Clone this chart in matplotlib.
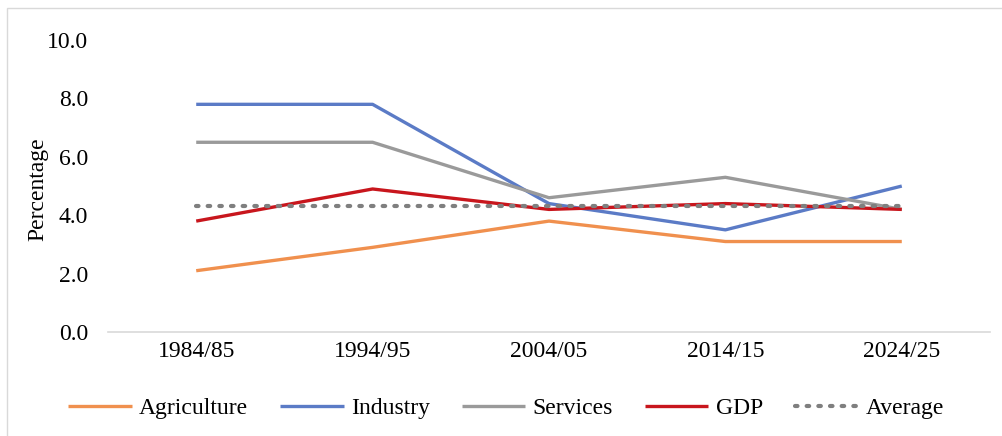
import matplotlib
matplotlib.use("Agg")
import matplotlib.pyplot as plt
from matplotlib.patches import Rectangle

plt.rcParams['font.family'] = ['Liberation Serif', 'DejaVu Serif']

periods = ["1984/85", "1994/95", "2004/05", "2014/15", "2024/25"]
agriculture = [2.1, 2.9, 3.8, 3.1, 3.1]
industry = [7.8, 7.8, 4.4, 3.5, 5.0]
services = [6.5, 6.5, 4.6, 5.3, 4.2]
gdp = [3.8, 4.9, 4.2, 4.4, 4.2]
average = [4.3, 4.3, 4.3, 4.3, 4.3]
yticks = [0.0, 2.0, 4.0, 6.0, 8.0, 10.0]

FS = 17

fig = plt.figure(figsize=(10.02, 4.36), dpi=100)
ax = fig.add_axes([0.1078, 0.2385, 0.8802, 0.6695])

x = list(range(len(periods)))
lw = 2.4
ax.plot(x, agriculture, color="#F0904E", lw=lw, label="Agriculture", solid_capstyle="butt")
ax.plot(x, industry, color="#5B7BC6", lw=lw, label="Industry", solid_capstyle="butt")
ax.plot(x, services, color="#9A9A9A", lw=lw, label="Services", solid_capstyle="butt")
ax.plot(x, gdp, color="#C8161D", lw=lw, label="GDP", solid_capstyle="butt")
ax.plot(x, average, color="#7F7F7F", lw=3.0, linestyle=(0, (0.6, 2.2)),
        dash_capstyle="round", label="Average")

ax.set_xlim(-0.5, len(periods) - 0.5)
ax.set_ylim(0, 10)
ax.set_xticks(x)
ax.set_xticklabels(periods)
ax.set_yticks(yticks)
ax.set_yticklabels([f"{v:.1f}" for v in yticks])
ax.tick_params(axis="both", length=0, labelsize=FS)
ax.tick_params(axis="y", pad=14.5)
ax.tick_params(axis="x", pad=6.5)
for side in ("top", "right", "left"):
    ax.spines[side].set_visible(False)
ax.spines["bottom"].set_color("#D9D9D9")
ax.spines["bottom"].set_linewidth(1.2)

fig.text(38 / 1002, 1 - 189 / 436, "Percentage", rotation=90, fontsize=FS,
         ha="center", va="center")

fig.legend(loc="center", bbox_to_anchor=(0.505, 0.064), ncol=5, frameon=False,
           fontsize=FS, handlelength=2.7, columnspacing=1.35, handletextpad=0.3)

fig.add_artist(Rectangle((0.007, -0.05), 1.2, 1.05 - 8 / 436, transform=fig.transFigure,
                         fill=False, edgecolor="#D9D9D9", lw=1.0))

fig.savefig("out.png", dpi=100)
